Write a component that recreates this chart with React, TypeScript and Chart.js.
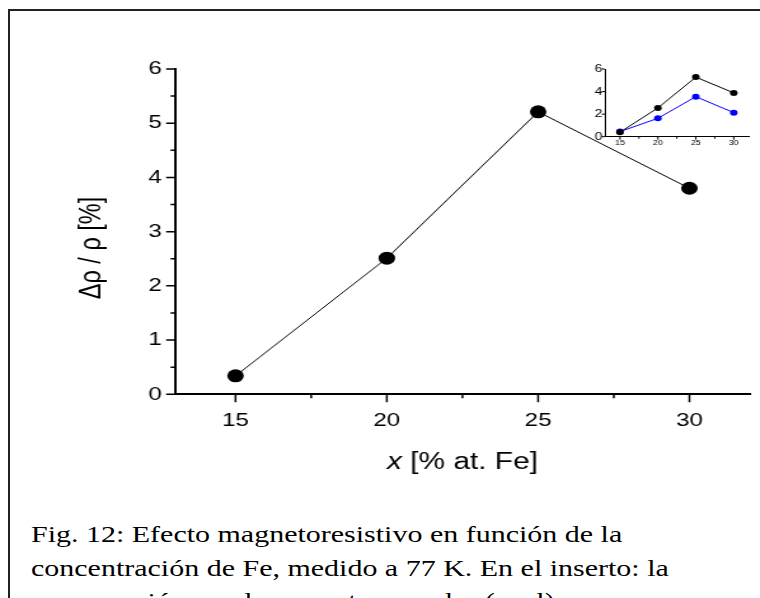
import React, { useEffect, useRef } from "react";
import { Chart, registerables } from "chart.js";

Chart.register(...registerables);

// ---- data ----
const xValues = [15, 20, 25, 30];
const mainSeries = [0.34, 2.51, 5.21, 3.8];
const insetBlackSeries = [0.4, 2.55, 5.28, 3.88];
const insetBlueSeries = [0.45, 1.63, 3.55, 2.13];
const xMajorTicks = [15, 20, 25, 30];
const xMinorTicks = [17.5, 22.5, 27.5];
const yMajorTicks = [0, 1, 2, 3, 4, 5, 6];
const yMinorTicks = [0.5, 1.5, 2.5, 3.5, 4.5, 5.5];
const insetYTicks = [0, 2, 4, 6];
const xTitleItalic = "x";
const xTitleRest = " [% at. Fe]";
const yTitle = "Δρ / ρ [%]";
const captionLines = [
  "Fig. 12: Efecto magnetoresistivo en función de la",
  "concentración de Fe, medido a 77 K. En el inserto: la",
  "comparación con las muestras crudas (azul).",
];

const STRETCH = 760 / 598;
const SANS = '"Liberation Sans", Arial, sans-serif';

const tickMarksPlugin = {
  id: "tickMarks",
  afterDraw(chart: any, _args: any, opts: any) {
    const { ctx, chartArea } = chart;
    const xs = chart.scales.x;
    const ys = chart.scales.y;
    ctx.save();
    ctx.strokeStyle = "#000";
    ctx.lineWidth = opts.width;
    ctx.beginPath();
    const drawX = (vals: number[], len: number) => {
      vals.forEach((v) => {
        const px = xs.getPixelForValue(v);
        ctx.moveTo(px, chartArea.bottom);
        ctx.lineTo(px, chartArea.bottom + len);
      });
    };
    const drawY = (vals: number[], len: number) => {
      vals.forEach((v) => {
        const py = ys.getPixelForValue(v);
        ctx.moveTo(chartArea.left, py);
        ctx.lineTo(chartArea.left - len, py);
      });
    };
    drawX(opts.xMajor, opts.xMajLen);
    drawX(opts.xMinor, opts.xMinLen);
    drawY(opts.yMajor, opts.yMajLen);
    drawY(opts.yMinor, opts.yMinLen);
    ctx.stroke();
    ctx.restore();
  },
};

const titlesPlugin = {
  id: "axisTitles",
  afterDraw(chart: any, _args: any, opts: any) {
    if (!opts || !opts.show) return;
    const { ctx, chartArea } = chart;
    ctx.save();
    ctx.fillStyle = "#000";
    ctx.textBaseline = "alphabetic";
    ctx.textAlign = "left";
    const size = opts.size;
    ctx.font = `italic ${size}px ${SANS}`;
    const w1 = ctx.measureText(xTitleItalic).width;
    ctx.font = `${size}px ${SANS}`;
    const w2 = ctx.measureText(xTitleRest).width;
    const cx = (chartArea.left + chartArea.right) / 2;
    const sx = cx - (w1 + w2) / 2;
    ctx.font = `italic ${size}px ${SANS}`;
    ctx.fillText(xTitleItalic, sx, opts.xBaseline);
    ctx.font = `${size}px ${SANS}`;
    ctx.fillText(xTitleRest, sx + w1, opts.xBaseline);

    ctx.translate(opts.yCenterX, opts.yCenterY);
    ctx.rotate(-Math.PI / 2);
    ctx.textAlign = "center";
    ctx.textBaseline = "middle";
    ctx.fillText(yTitle, 0, 0);
    ctx.restore();
  },
};

function axisCommon(fontSize: number, padding: number, borderWidth: number) {
  return {
    grid: { display: false, drawTicks: false },
    border: { display: true, color: "#000", width: borderWidth },
    ticks: {
      color: "#000",
      font: { family: SANS, size: fontSize },
      padding,
      maxRotation: 0,
      autoSkip: false,
      callback: (v: any) => String(v),
    },
  };
}

export default function App() {
  const mainRef = useRef<HTMLCanvasElement>(null);
  const insetRef = useRef<HTMLCanvasElement>(null);

  useEffect(() => {
    document.documentElement.style.overflow = "hidden";
    document.body.style.overflow = "hidden";
    const mainCanvas = mainRef.current!;
    const insetCanvas = insetRef.current!;

    const mainX = axisCommon(19, 15, 2);
    const mainY = axisCommon(19, 10.5, 2);
    const mainChart = new Chart(mainCanvas, {
      type: "line",
      data: {
        datasets: [
          {
            data: xValues.map((x, i) => ({ x, y: mainSeries[i] })),
            borderColor: "#000",
            borderWidth: 1,
            pointRadius: 6.5,
            pointBackgroundColor: "#000",
            pointBorderWidth: 0,
            tension: 0,
          },
        ],
      },
      options: {
        responsive: false,
        animation: false,
        devicePixelRatio: 1,
        layout: { padding: { left: 0, top: 69, right: 7.9, bottom: 45.7 } },
        plugins: {
          legend: { display: false },
          tooltip: { enabled: false },
          tickMarks: {
            width: 1.5,
            xMajor: xMajorTicks,
            xMinor: xMinorTicks,
            yMajor: yMajorTicks,
            yMinor: yMinorTicks,
            xMajLen: 8,
            xMinLen: 4,
            yMajLen: 7,
            yMinLen: 3.5,
          },
          axisTitles: { show: true, size: 23.5, xBaseline: 469, yCenterX: 72.4, yCenterY: 248 },
        } as any,
        scales: {
          x: {
            type: "linear",
            min: 13,
            max: 32,
            ...mainX,
            afterBuildTicks: (s: any) => {
              s.ticks = xMajorTicks.map((v) => ({ value: v }));
            },
            afterFit: (s: any) => {
              s.height = 60;
            },
          } as any,
          y: {
            type: "linear",
            min: 0,
            max: 6,
            ...mainY,
            afterBuildTicks: (s: any) => {
              s.ticks = yMajorTicks.map((v) => ({ value: v }));
            },
            afterFit: (s: any) => {
              s.width = 137.7;
            },
          } as any,
        },
      },
      plugins: [tickMarksPlugin, titlesPlugin],
    });

    const insX = axisCommon(7, 2.4, 1);
    const insY = axisCommon(11, 2, 1);
    const insetChart = new Chart(insetCanvas, {
      type: "line",
      data: {
        datasets: [
          {
            data: xValues.map((x, i) => ({ x, y: insetBlackSeries[i] })),
            borderColor: "#000",
            borderWidth: 1,
            pointRadius: 3,
            pointBackgroundColor: "#000",
            pointBorderWidth: 0,
            tension: 0,
          },
          {
            data: xValues.map((x, i) => ({ x, y: insetBlueSeries[i] })),
            borderColor: "#0000ff",
            borderWidth: 1,
            pointRadius: 3,
            pointBackgroundColor: "#0000ff",
            pointBorderWidth: 0,
            tension: 0,
          },
        ],
      },
      options: {
        responsive: false,
        animation: false,
        devicePixelRatio: 1,
        layout: { padding: { left: 0, top: 19, right: 8.7, bottom: 3.3 } },
        plugins: {
          legend: { display: false },
          tooltip: { enabled: false },
          tickMarks: {
            width: 1,
            xMajor: xMajorTicks,
            xMinor: xMinorTicks,
            yMajor: insetYTicks,
            yMinor: [],
            xMajLen: 3,
            xMinLen: 2,
            yMajLen: 2.5,
            yMinLen: 0,
          },
          axisTitles: { show: false },
        } as any,
        scales: {
          x: {
            type: "linear",
            min: 13,
            max: 32,
            ...insX,
            afterBuildTicks: (s: any) => {
              s.ticks = xMajorTicks.map((v) => ({ value: v }));
            },
            afterFit: (s: any) => {
              s.height = 20;
            },
          } as any,
          y: {
            type: "linear",
            min: 0,
            max: 6,
            ...insY,
            afterBuildTicks: (s: any) => {
              s.ticks = insetYTicks.map((v) => ({ value: v }));
            },
            afterFit: (s: any) => {
              s.width = 36;
            },
          } as any,
        },
      },
      plugins: [tickMarksPlugin, titlesPlugin],
    });

    return () => {
      mainChart.destroy();
      insetChart.destroy();
    };
  }, []);

  return (
    <div
      style={{
        position: "fixed",
        left: 0,
        top: 0,
        width: 760,
        height: 598,
        overflow: "hidden",
        background: "#fff",
      }}
    >
      <div
        style={{
          position: "absolute",
          left: 8,
          top: 8.5,
          width: 752,
          height: 2,
          background: "#222",
        }}
      />
      <div
        style={{
          position: "absolute",
          left: 8,
          top: 8.5,
          width: 2,
          height: 590,
          background: "#222",
        }}
      />
      <canvas
        ref={mainRef}
        width={598}
        height={500}
        style={{ position: "absolute", left: 0, top: 0, width: 760, height: 500 }}
      />
      <canvas
        ref={insetRef}
        width={158}
        height={110}
        style={{
          position: "absolute",
          left: 440 * STRETCH,
          top: 50,
          width: 158 * STRETCH,
          height: 110,
        }}
      />
      <div
        style={{
          position: "absolute",
          left: 30.5,
          top: 518,
          font: '23.6px "Liberation Serif", "Times New Roman", serif',
          lineHeight: "33.6px",
          whiteSpace: "nowrap",
          color: "#000",
          transform: `scaleX(${STRETCH})`,
          transformOrigin: "0 0",
        }}
      >
        {captionLines.map((l, i) => (
          <div key={i}>{l}</div>
        ))}
      </div>
    </div>
  );
}
